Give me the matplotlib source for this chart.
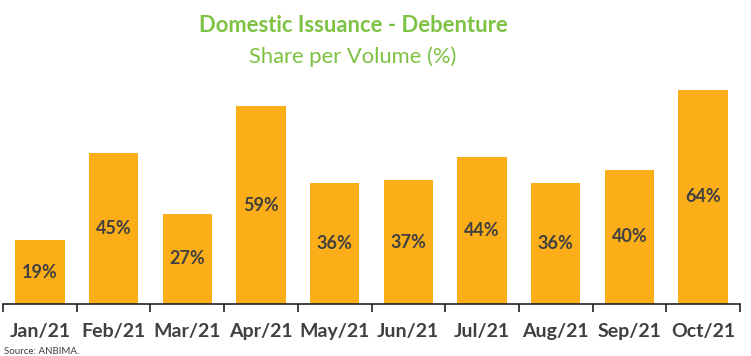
import matplotlib.pyplot as plt
import numpy as np

months = ["Jan/21", "Feb/21", "Mar/21", "Apr/21", "May/21",
          "Jun/21", "Jul/21", "Aug/21", "Sep/21", "Oct/21"]
share = [19, 45, 27, 59, 36, 37, 44, 36, 40, 64]

bar_color = "#FBAE17"
text_color = "#404040"
green = "#7DC242"

plt.rcParams['font.family'] = ['Lato', 'DejaVu Sans']

fig = plt.figure(figsize=(7.51, 3.56), dpi=100)
ax = fig.add_axes([3 / 751, 1 - 304 / 356, 737 / 751, (304 - 69.5) / 356])

x = np.arange(len(months))
bars = ax.bar(x, share, width=0.67, color=bar_color)
for xi, v in zip(x, share):
    ax.text(xi, v / 2, f"{v}%", ha="center", va="center",
            fontsize=13, fontweight="bold", color=text_color)

ax.set_xlim(-0.5, len(months) - 0.5)
ax.set_ylim(0, 70)
ax.set_yticks([])
for s in ["top", "right", "left"]:
    ax.spines[s].set_visible(False)
ax.spines["bottom"].set_color("#202020")
ax.spines["bottom"].set_linewidth(1.2)

ax.set_xticks(x)
ax.set_xticklabels(months, fontsize=14, fontweight="bold", color=text_color)
ax.tick_params(axis="x", which="major", length=0, pad=14)
ax.set_xticks(np.arange(-0.5, len(months)), minor=True)
ax.tick_params(axis="x", which="minor", length=6, width=1.2, color="#202020")

# titles sit a bit left of the figure centre in the original
title_x = 353 / 751
fig.text(title_x, 1 - 26 / 356, "Domestic Issuance - Debenture", ha="center", va="center",
         fontsize=15.8, fontweight="bold", color=green)
fig.text(title_x, 1 - 57 / 356, "Share per Volume (%)", ha="center", va="center",
         fontsize=15.8, color=green)
fig.text(4 / 751, 1 - 351 / 356, "Source: ANBIMA.", ha="left", va="center",
         fontsize=7, color=text_color)

fig.savefig("out.png", dpi=100)
